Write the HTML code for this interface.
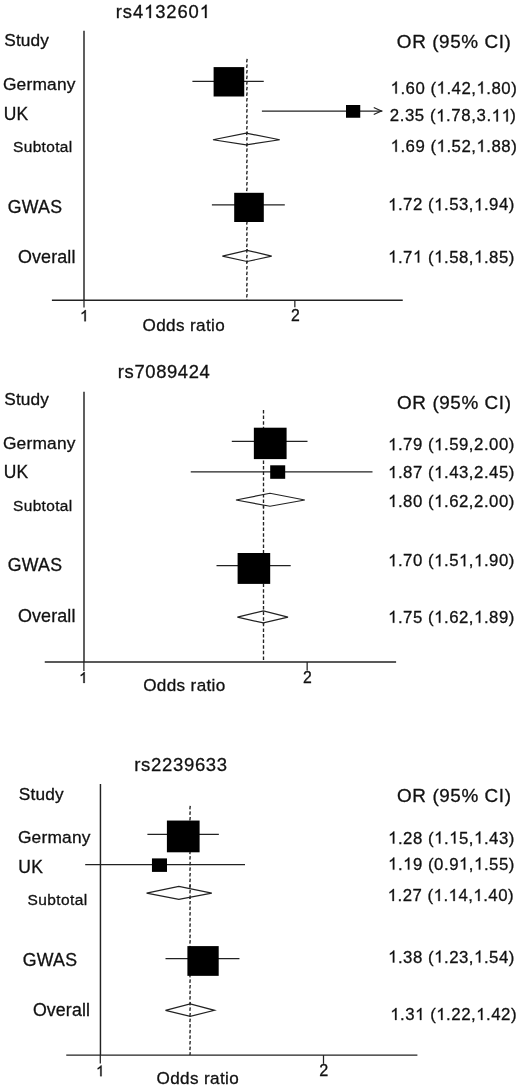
<!DOCTYPE html>
<html lang="en"><head><meta charset="utf-8"><title>Forest plots</title>
<style>
html,body{margin:0;padding:0;background:#fff;}
body{width:520px;height:1087px;overflow:hidden;}
svg{display:block;filter:grayscale(1);}
text{font-family:"Liberation Sans",sans-serif;fill:#111;stroke:#111;stroke-width:0.3;}
#g1{stroke:#111;stroke-width:36;}
.ln{stroke:#222;stroke-width:1.25;fill:none;}
.ax{stroke:#222;stroke-width:1.45;fill:none;}
.ds{stroke:#222;stroke-width:1.35;fill:none;}
.sq{fill:#000;}
.dm{stroke:#222;stroke-width:1.2;fill:#fff;stroke-linejoin:miter;}
</style></head><body>
<svg width="520" height="1087" viewBox="0 0 520 1087">
<defs><path id="g1" d="M763 0H583V-1147Q518 -1085 412.5 -1023T223 -930V-1104Q374 -1175 487 -1276T647 -1472H763Z" fill="#111"/></defs>
<rect x="0" y="0" width="520" height="1087" fill="#fff"/>
<g>
<path class="ds" d="M247.18,58.8L246.62,62.3M247.18,64.4L246.62,67.9M247.18,70L246.62,73.5M247.18,75.6L246.62,79.1M247.18,81.2L246.62,84.7M247.18,86.8L246.62,90.3M247.18,92.4L246.62,95.9M247.18,98L246.62,101.5M247.18,103.6L246.62,107.1M247.18,109.2L246.62,112.7M247.18,114.8L246.62,118.3M247.18,120.4L246.62,123.9M247.18,126L246.62,129.5M247.18,131.6L246.62,135.1M247.18,137.2L246.62,140.7M247.18,142.8L246.62,146.3M247.18,148.4L246.62,151.9M247.18,154L246.62,157.5M247.18,159.6L246.62,163.1M247.18,165.2L246.62,168.7M247.18,170.8L246.62,174.3M247.18,176.4L246.62,179.9M247.18,182L246.62,185.5M247.18,187.6L246.62,191.1M247.18,193.2L246.62,196.7M247.18,198.8L246.62,202.3M247.18,204.4L246.62,207.9M247.18,210L246.62,213.5M247.18,215.6L246.62,219.1M247.18,221.2L246.62,224.7M247.18,226.8L246.62,230.3M247.18,232.4L246.62,235.9M247.18,238L246.62,241.5M247.18,243.6L246.62,247.1M247.18,249.2L246.62,252.7M247.18,254.8L246.62,258.3M247.18,260.4L246.62,263.9M247.18,266L246.62,269.5M247.18,271.6L246.62,275.1M247.18,277.2L246.62,280.7M247.18,282.8L246.62,286.3M247.18,288.4L246.62,291.9M247.18,294L246.62,297.5M247.18,299.6L247.11,300"/>
<line class="ax" x1="84" y1="30.7" x2="84" y2="300.2"/>
<line class="ax" x1="51.9" y1="300.2" x2="402.75" y2="300.2"/>
<line class="ln" x1="84" y1="300.2" x2="84" y2="307.4"/>
<line class="ln" x1="294.85" y1="300.2" x2="294.85" y2="307.3"/>
<line class="ln" x1="192.4" y1="81.25" x2="263.75" y2="81.25"/>
<rect class="sq" x="213.6" y="67.1" width="30.65" height="29.4"/>
<line class="ln" x1="261.9" y1="111" x2="382.25" y2="111"/>
<rect class="sq" x="346" y="105" width="14.25" height="12.75"/>
<polyline class="ln" points="373.75,107.5 381.35,111 373.75,114.5"/>
<line class="ln" x1="211.9" y1="204.8" x2="284.8" y2="204.8"/>
<rect class="sq" x="234.2" y="192.8" width="29.6" height="29.2"/>
<polygon class="dm" points="213,139.75 246.2,133.1 279.75,139.75 246.2,144.9"/>
<path class="ds" d="M247.18,131.6L246.62,135.1M247.18,137.2L246.62,140.7M247.18,142.8L246.62,146.3"/>
<polygon class="dm" points="222.4,256.2 247,250.3 271.7,256.2 247,261.5"/>
<path class="ds" d="M247.18,249.2L246.62,252.7M247.18,254.8L246.62,258.3M247.18,260.4L246.77,263"/>
</g>
<g>
<path class="ds" d="M263.5,410L263.5,413.5M263.5,415.6L263.5,419.1M263.5,421.2L263.5,424.7M263.5,426.8L263.5,430.3M263.5,432.4L263.5,435.9M263.5,438L263.5,441.5M263.5,443.6L263.5,447.1M263.5,449.2L263.5,452.7M263.5,454.8L263.5,458.3M263.5,460.4L263.5,463.9M263.5,466L263.5,469.5M263.5,471.6L263.5,475.1M263.5,477.2L263.5,480.7M263.5,482.8L263.5,486.3M263.5,488.4L263.5,491.9M263.5,494L263.5,497.5M263.5,499.6L263.5,503.1M263.5,505.2L263.5,508.7M263.5,510.8L263.5,514.3M263.5,516.4L263.5,519.9M263.5,522L263.5,525.5M263.5,527.6L263.5,531.1M263.5,533.2L263.5,536.7M263.5,538.8L263.5,542.3M263.5,544.4L263.5,547.9M263.5,550L263.5,553.5M263.5,555.6L263.5,559.1M263.5,561.2L263.5,564.7M263.5,566.8L263.5,570.3M263.5,572.4L263.5,575.9M263.5,578L263.5,581.5M263.5,583.6L263.5,587.1M263.5,589.2L263.5,592.7M263.5,594.8L263.5,598.3M263.5,600.4L263.5,603.9M263.5,606L263.5,609.5M263.5,611.6L263.5,615.1M263.5,617.2L263.5,620.7M263.5,622.8L263.5,626.3M263.5,628.4L263.5,631.9M263.5,634L263.5,637.5M263.5,639.6L263.5,643.1M263.5,645.2L263.5,648.7M263.5,650.8L263.5,654.3M263.5,656.4L263.5,659.9"/>
<line class="ax" x1="84" y1="391.7" x2="84" y2="662"/>
<line class="ax" x1="44.75" y1="662" x2="396.1" y2="662"/>
<line class="ln" x1="83.9" y1="662" x2="83.9" y2="670.9"/>
<line class="ln" x1="307.15" y1="662" x2="307.15" y2="670.6"/>
<line class="ln" x1="231.8" y1="441.25" x2="307.5" y2="441.25"/>
<rect class="sq" x="253.85" y="427.7" width="32.75" height="31.4"/>
<line class="ln" x1="190.75" y1="471.75" x2="372.5" y2="471.75"/>
<rect class="sq" x="270.2" y="465.3" width="15" height="13.5"/>
<line class="ln" x1="216.5" y1="565.5" x2="290.7" y2="565.5"/>
<rect class="sq" x="237.6" y="553" width="32.6" height="30.9"/>
<polygon class="dm" points="236,500 270,493.25 304.8,500 270,506.25"/>
<path class="ds" d="M263.5,494L263.5,497.5M263.5,499.6L263.5,503.1M263.5,505.2L263.5,507.75"/>
<polygon class="dm" points="237.4,617.2 263.4,610.8 288,617.2 263.4,622.9"/>
<path class="ds" d="M263.5,611.6L263.5,615.1M263.5,617.2L263.5,620.7M263.5,622.8L263.5,624.4"/>
</g>
<g>
<path class="ds" d="M190.25,805.8L189.85,809.3M190.25,811.4L189.85,814.9M190.25,817L189.85,820.5M190.25,822.6L189.85,826.1M190.25,828.2L189.85,831.7M190.25,833.8L189.85,837.3M190.25,839.4L189.85,842.9M190.25,845L189.85,848.5M190.25,850.6L189.85,854.1M190.25,856.2L189.85,859.7M190.25,861.8L189.85,865.3M190.25,867.4L189.85,870.9M190.25,873L189.85,876.5M190.25,878.6L189.85,882.1M190.25,884.2L189.85,887.7M190.25,889.8L189.85,893.3M190.25,895.4L189.85,898.9M190.25,901L189.85,904.5M190.25,906.6L189.85,910.1M190.25,912.2L189.85,915.7M190.25,917.8L189.85,921.3M190.25,923.4L189.85,926.9M190.25,929L189.85,932.5M190.25,934.6L189.85,938.1M190.25,940.2L189.85,943.7M190.25,945.8L189.85,949.3M190.25,951.4L189.85,954.9M190.25,957L189.85,960.5M190.25,962.6L189.85,966.1M190.25,968.2L189.85,971.7M190.25,973.8L189.85,977.3M190.25,979.4L189.85,982.9M190.25,985L189.85,988.5M190.25,990.6L189.85,994.1M190.25,996.2L189.85,999.7M190.25,1001.8L189.85,1005.3M190.25,1007.4L189.85,1010.9M190.25,1013L189.85,1016.5M190.25,1018.6L189.85,1022.1M190.25,1024.2L189.85,1027.7M190.25,1029.8L189.85,1033.3M190.25,1035.4L189.85,1038.9M190.25,1041L189.85,1044.5M190.25,1046.6L189.85,1050.1M190.25,1052.2L189.93,1055"/>
<line class="ax" x1="100.45" y1="784" x2="100.45" y2="1055.1"/>
<line class="ax" x1="66.25" y1="1055.1" x2="417.4" y2="1055.1"/>
<line class="ln" x1="100.3" y1="1055.1" x2="100.3" y2="1063.4"/>
<line class="ln" x1="323.5" y1="1055.1" x2="323.5" y2="1063.8"/>
<line class="ln" x1="147.4" y1="834.4" x2="218.85" y2="834.4"/>
<rect class="sq" x="166.9" y="820.55" width="32.7" height="31.75"/>
<line class="ln" x1="85.2" y1="864.7" x2="245" y2="864.7"/>
<rect class="sq" x="151.95" y="858.4" width="15.05" height="13.5"/>
<line class="ln" x1="165.5" y1="958.7" x2="239.45" y2="958.7"/>
<rect class="sq" x="187.4" y="946.1" width="31.3" height="29.75"/>
<polygon class="dm" points="146.6,893.1 178.85,886.3 211.8,893.1 178.85,899.4"/>
<path class="ds" d="M190.18,884.8L189.85,887.7M190.25,889.8L189.85,893.3M190.25,895.4L189.85,898.9"/>
<polygon class="dm" points="165.5,1010.3 190.2,1003.85 214.5,1010.3 190.2,1016.4"/>
<path class="ds" d="M190.19,1002.35L189.85,1005.3M190.25,1007.4L189.85,1010.9M190.25,1013L189.85,1016.5"/>
</g>
<g>
<text x="115.85 122.87 132.97 144.1 155.23 166.36 177.49 188.62 199.74" y="18" font-size="18.4">rs4 3260 </text>
<use href="#g1" transform="translate(144.1,18) scale(0.00898)"/>
<use href="#g1" transform="translate(199.74,18) scale(0.00898)"/>
<text x="4.21" y="46.4" font-size="17.26" letter-spacing="0.17">Study</text>
<text x="2.94" y="89.9" font-size="17.38" letter-spacing="0.18">Germany</text>
<text x="3.66" y="119.6" font-size="17.44" letter-spacing="0.35">UK</text>
<text x="13.02" y="152" font-size="15.44" letter-spacing="0.37">Subtotal</text>
<text x="7.67" y="212.7" font-size="17.74" letter-spacing="0.26">GWAS</text>
<text x="17.91" y="262.9" font-size="17.9" letter-spacing="0.14">Overall</text>
<text x="396.86" y="48" font-size="18.9" letter-spacing="0.59">OR (95% CI)</text>
<text x="390.57 400.42 405.59 415.44 425.29 430.46 436.56 446.41 451.58 461.43 471.28 476.46 486.3 491.48 501.33 511.17" y="93.6" font-size="16.8"> .60 ( .42, .80)</text>
<use href="#g1" transform="translate(390.57,93.6) scale(0.00820)"/>
<use href="#g1" transform="translate(436.56,93.6) scale(0.00820)"/>
<use href="#g1" transform="translate(476.46,93.6) scale(0.00820)"/>
<text x="389.71 399.64 404.89 414.82 424.75 430.01 436.19 446.12 451.37 461.3 471.23 476.48 486.41 491.66 501.59 510.27" y="121.4" font-size="16.8">2.35 ( .78,3.  )</text>
<use href="#g1" transform="translate(436.19,121.4) scale(0.00820)"/>
<use href="#g1" transform="translate(491.66,121.4) scale(0.00820)"/>
<use href="#g1" transform="translate(501.59,121.4) scale(0.00820)"/>
<text x="390.57 400.42 405.59 415.44 425.29 430.46 436.56 446.41 451.58 461.43 471.28 476.46 486.3 491.48 501.33 511.17" y="151.75" font-size="16.8"> .69 ( .52, .88)</text>
<use href="#g1" transform="translate(390.57,151.75) scale(0.00820)"/>
<use href="#g1" transform="translate(436.56,151.75) scale(0.00820)"/>
<use href="#g1" transform="translate(476.46,151.75) scale(0.00820)"/>
<text x="388.07 397.93 403.11 412.96 422.82 428 434.1 443.96 449.14 458.99 468.85 474.03 483.88 489.06 498.92 508.77" y="210.4" font-size="16.8"> .72 ( .53, .94)</text>
<use href="#g1" transform="translate(388.07,210.4) scale(0.00820)"/>
<use href="#g1" transform="translate(434.1,210.4) scale(0.00820)"/>
<use href="#g1" transform="translate(474.03,210.4) scale(0.00820)"/>
<text x="388.07 397.93 403.11 412.96 422.82 428 434.1 443.96 449.14 458.99 468.85 474.03 483.88 489.06 498.92 508.77" y="262.5" font-size="16.8"> .7  ( .58, .85)</text>
<use href="#g1" transform="translate(388.07,262.5) scale(0.00820)"/>
<use href="#g1" transform="translate(412.96,262.5) scale(0.00820)"/>
<use href="#g1" transform="translate(434.1,262.5) scale(0.00820)"/>
<use href="#g1" transform="translate(474.03,262.5) scale(0.00820)"/>
<text x="291.06" y="320.9" font-size="15.79">2</text>
<text x="142.6" y="331" font-size="17.1" letter-spacing="0.36">Odds ratio</text>
<text x="117.85" y="378.4" font-size="18.4" letter-spacing="0.63">rs7089424</text>
<text x="4.21" y="405.1" font-size="17.26" letter-spacing="0.17">Study</text>
<text x="2.94" y="448.5" font-size="17.38" letter-spacing="0.18">Germany</text>
<text x="3.66" y="478.1" font-size="17.44" letter-spacing="0.35">UK</text>
<text x="13.02" y="510.6" font-size="15.44" letter-spacing="0.37">Subtotal</text>
<text x="7.67" y="571.25" font-size="17.74" letter-spacing="0.26">GWAS</text>
<text x="17.91" y="621.7" font-size="17.9" letter-spacing="0.14">Overall</text>
<text x="397.11" y="408.75" font-size="18.9" letter-spacing="0.57">OR (95% CI)</text>
<text x="388.07 397.93 403.11 412.96 422.82 428 434.1 443.96 449.14 458.99 468.85 474.03 483.88 489.06 498.92 508.77" y="450.25" font-size="16.8"> .79 ( .59,2.00)</text>
<use href="#g1" transform="translate(388.07,450.25) scale(0.00820)"/>
<use href="#g1" transform="translate(434.1,450.25) scale(0.00820)"/>
<text x="388.07 397.93 403.11 412.96 422.82 428 434.1 443.96 449.14 458.99 468.85 474.03 483.88 489.06 498.92 508.77" y="478.1" font-size="16.8"> .87 ( .43,2.45)</text>
<use href="#g1" transform="translate(388.07,478.1) scale(0.00820)"/>
<use href="#g1" transform="translate(434.1,478.1) scale(0.00820)"/>
<text x="388.07 397.93 403.11 412.96 422.82 428 434.1 443.96 449.14 458.99 468.85 474.03 483.88 489.06 498.92 508.77" y="506.9" font-size="16.8"> .80 ( .62,2.00)</text>
<use href="#g1" transform="translate(388.07,506.9) scale(0.00820)"/>
<use href="#g1" transform="translate(434.1,506.9) scale(0.00820)"/>
<text x="388.07 397.93 403.11 412.96 422.82 428 434.1 443.96 449.14 458.99 468.85 474.03 483.88 489.06 498.92 508.77" y="566.25" font-size="16.8"> .70 ( .5 , .90)</text>
<use href="#g1" transform="translate(388.07,566.25) scale(0.00820)"/>
<use href="#g1" transform="translate(434.1,566.25) scale(0.00820)"/>
<use href="#g1" transform="translate(458.99,566.25) scale(0.00820)"/>
<use href="#g1" transform="translate(474.03,566.25) scale(0.00820)"/>
<text x="388.07 397.93 403.11 412.96 422.82 428 434.1 443.96 449.14 458.99 468.85 474.03 483.88 489.06 498.92 508.77" y="622.75" font-size="16.8"> .75 ( .62, .89)</text>
<use href="#g1" transform="translate(388.07,622.75) scale(0.00820)"/>
<use href="#g1" transform="translate(434.1,622.75) scale(0.00820)"/>
<use href="#g1" transform="translate(474.03,622.75) scale(0.00820)"/>
<text x="303.06" y="683.3" font-size="15.79">2</text>
<text x="143.2" y="691" font-size="17.1" letter-spacing="0.36">Odds ratio</text>
<text x="134.24" y="771.4" font-size="18.5" letter-spacing="0.68">rs2239633</text>
<text x="18.86" y="799.7" font-size="17.26" letter-spacing="0.17">Study</text>
<text x="17.94" y="842.9" font-size="17.38" letter-spacing="0.18">Germany</text>
<text x="18.31" y="872.5" font-size="17.48" letter-spacing="0.35">UK</text>
<text x="27.62" y="905.2" font-size="15.51" letter-spacing="0.37">Subtotal</text>
<text x="22.67" y="965.6" font-size="17.74" letter-spacing="0.26">GWAS</text>
<text x="32.92" y="1016.3" font-size="17.74" letter-spacing="0.14">Overall</text>
<text x="397.11" y="801.9" font-size="18.9" letter-spacing="0.57">OR (95% CI)</text>
<text x="388.07 397.93 403.11 412.96 422.82 428 434.1 443.96 449.14 458.99 468.85 474.03 483.88 489.06 498.92 508.77" y="843.5" font-size="16.8"> .28 ( . 5, .43)</text>
<use href="#g1" transform="translate(388.07,843.5) scale(0.00820)"/>
<use href="#g1" transform="translate(434.1,843.5) scale(0.00820)"/>
<use href="#g1" transform="translate(449.14,843.5) scale(0.00820)"/>
<use href="#g1" transform="translate(474.03,843.5) scale(0.00820)"/>
<text x="388.07 397.93 403.11 412.96 422.82 428 434.1 443.96 449.14 458.99 468.85 474.03 483.88 489.06 498.92 508.77" y="869.6" font-size="16.8"> . 9 (0.9 , .55)</text>
<use href="#g1" transform="translate(388.07,869.6) scale(0.00820)"/>
<use href="#g1" transform="translate(403.11,869.6) scale(0.00820)"/>
<use href="#g1" transform="translate(458.99,869.6) scale(0.00820)"/>
<use href="#g1" transform="translate(474.03,869.6) scale(0.00820)"/>
<text x="387.67 397.5 402.66 412.49 422.32 427.48 433.56 443.4 448.55 458.38 468.22 473.37 483.2 488.36 498.19 508.02" y="901" font-size="16.8"> .27 ( . 4, .40)</text>
<use href="#g1" transform="translate(387.67,901) scale(0.00820)"/>
<use href="#g1" transform="translate(433.56,901) scale(0.00820)"/>
<use href="#g1" transform="translate(448.55,901) scale(0.00820)"/>
<use href="#g1" transform="translate(473.37,901) scale(0.00820)"/>
<text x="388.07 397.93 403.11 412.96 422.82 428 434.1 443.96 449.14 458.99 468.85 474.03 483.88 489.06 498.92 508.77" y="962.5" font-size="16.8"> .38 ( .23, .54)</text>
<use href="#g1" transform="translate(388.07,962.5) scale(0.00820)"/>
<use href="#g1" transform="translate(434.1,962.5) scale(0.00820)"/>
<use href="#g1" transform="translate(474.03,962.5) scale(0.00820)"/>
<text x="390.27 400.12 405.29 415.14 424.99 430.16 436.26 446.11 451.28 461.13 470.98 476.16 486 491.18 501.03 510.88" y="1020" font-size="16.8"> .3  ( .22, .42)</text>
<use href="#g1" transform="translate(390.27,1020) scale(0.00820)"/>
<use href="#g1" transform="translate(415.14,1020) scale(0.00820)"/>
<use href="#g1" transform="translate(436.26,1020) scale(0.00820)"/>
<use href="#g1" transform="translate(476.16,1020) scale(0.00820)"/>
<text x="319.14" y="1076.4" font-size="16.21">2</text>
<text x="156.6" y="1084.1" font-size="17.1" letter-spacing="0.36">Odds ratio</text>
<use href="#g1" transform="translate(79.94,321.3) scale(0.00768)"/>
<use href="#g1" transform="translate(79.05,683) scale(0.00740)"/>
<use href="#g1" transform="translate(96,1076.2) scale(0.00734)"/>
</g>
</svg></body></html>
